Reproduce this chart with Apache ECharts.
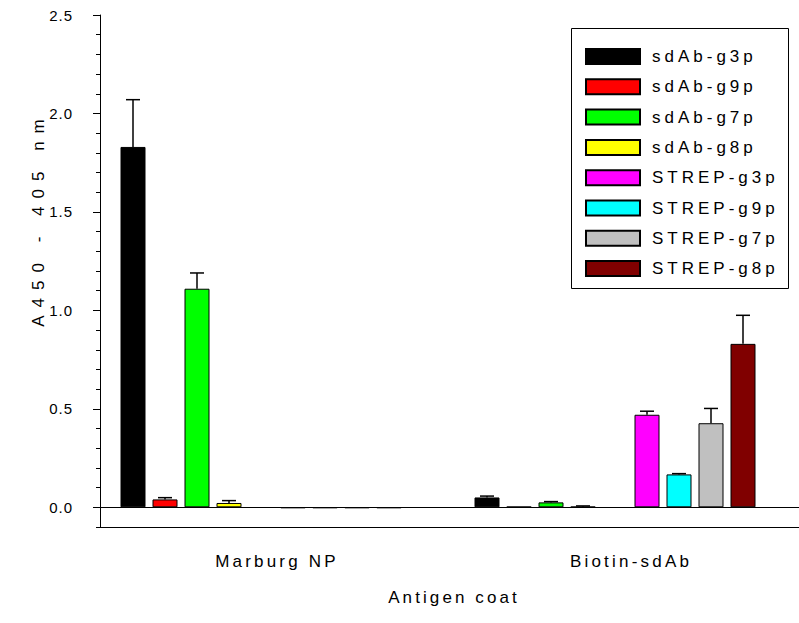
<!DOCTYPE html>
<html>
<head>
<meta charset="utf-8">
<script src="https://cdn.jsdelivr.net/npm/echarts@6/dist/echarts.min.js"></script>
<style>
    html, body { margin: 0; padding: 0; background: #fff; }
    #root { width: 799px; height: 623px; }
</style>
</head>
<body>
<div id="root"></div>
<script>
// categories on the x axis
var categories = ['Marburg NP', 'Biotin-sdAb'];

// bar heights per category
var sdAbG3p = [1.83, 0.05];
var sdAbG9p = [0.04, 0.003];
var sdAbG7p = [1.11, 0.025];
var sdAbG8p = [0.022, 0.003];
var strepG3p = [-0.004, 0.47];
var strepG9p = [-0.004, 0.167];
var strepG7p = [-0.004, 0.427];
var strepG8p = [-0.004, 0.83];

// upper error bars
var sdAbG3pErr = [0.24, 0.007];
var sdAbG9pErr = [0.009, 0];
var sdAbG7pErr = [0.08, 0.004];
var sdAbG8pErr = [0.012, 0.004];
var strepG3pErr = [0, 0.018];
var strepG9pErr = [0, 0.004];
var strepG7pErr = [0, 0.075];
var strepG8pErr = [0, 0.145];

// y axis ticks
var majorTicks = [0, 0.5, 1.0, 1.5, 2.0, 2.5];
var minorTicks = [-0.1, 0.1, 0.2, 0.3, 0.4, 0.6, 0.7, 0.8, 0.9, 1.1, 1.2, 1.3, 1.4,
    1.6, 1.7, 1.8, 1.9, 2.1, 2.2, 2.3, 2.4];

var names = ['sdAb-g3p', 'sdAb-g9p', 'sdAb-g7p', 'sdAb-g8p',
    'STREP-g3p', 'STREP-g9p', 'STREP-g7p', 'STREP-g8p'];
var colors = ['#000000', '#ff0000', '#00ff00', '#ffff00',
    '#ff00ff', '#00ffff', '#c0c0c0', '#800000'];
var values = [sdAbG3p, sdAbG9p, sdAbG7p, sdAbG8p, strepG3p, strepG9p, strepG7p, strepG8p];
var errors = [sdAbG3pErr, sdAbG9pErr, sdAbG7pErr, sdAbG8pErr, strepG3pErr, strepG9pErr, strepG7pErr, strepG8pErr];
// slot of each series inside a group; slot 4 and 9 stay empty like in the original
var slots = [0, 1, 2, 3, 5, 6, 7, 8];

var FONT = "'Liberation Sans', Arial, sans-serif";
var BAR_W = 25, BAR_STEP = 32;
var Y_TITLE = 'A450 - 405 nm', X_TITLE = 'Antigen coat';

var series = [];
for (var s = 0; s < 10; s++) {
    var idx = slots.indexOf(s);
    if (idx < 0) {
        series.push({ type: 'bar', name: '', data: [null, null], barWidth: BAR_W, barGap: '28%' });
    } else {
        series.push({
            type: 'bar',
            name: names[idx],
            data: values[idx],
            barWidth: BAR_W,
            barGap: '28%',
            itemStyle: { color: colors[idx], borderColor: '#000', borderWidth: 1 }
        });
    }
}
// the zero line
series[0].markLine = {
    silent: true,
    symbol: 'none',
    label: { show: false },
    lineStyle: { color: '#000', width: 1, type: 'solid' },
    data: [{ yAxis: 0 }]
};

var errData = [];
for (var i = 0; i < names.length; i++) {
    for (var c = 0; c < categories.length; c++) {
        errData.push([c, slots[i], values[i][c], errors[i][c]]);
    }
}
series.push({
    type: 'custom',
    z: 5,
    silent: true,
    encode: { x: 0, y: 2 },
    data: errData,
    renderItem: function (params, api) {
        var e = api.value(3);
        if (!e) return;
        var v = api.value(2);
        var base = api.coord([api.value(0), v]);
        var top = api.coord([api.value(0), v + e]);
        var x = base[0] + (api.value(1) - 4.5) * BAR_STEP;
        var st = { stroke: '#000', lineWidth: 1.5 };
        return {
            type: 'group',
            children: [
                { type: 'line', shape: { x1: x, y1: base[1], x2: x, y2: top[1] }, style: st },
                { type: 'line', shape: { x1: x - 7, y1: top[1], x2: x + 7, y2: top[1] }, style: st }
            ]
        };
    }
});

var chart = echarts.init(document.getElementById('root'), null, { renderer: 'svg' });
chart.setOption({
    animation: false,
    backgroundColor: '#fff',
    textStyle: { fontFamily: FONT },
    grid: { left: 100, top: 15, width: 708, height: 512, outerBoundsMode: 'none', containLabel: false },
    legend: {
        data: names,
        orient: 'vertical',
        left: 571,
        top: 28,
        icon: 'rect',
        itemWidth: 54,
        itemHeight: 15,
        itemGap: 13.3,
        padding: [20, 0, 0, 14],
        textStyle: { fontFamily: FONT, fontSize: 17, color: '#000', padding: [0, 0, 0, 7] }
    },
    xAxis: {
        type: 'category',
        data: categories,
        name: X_TITLE,
        nameLocation: 'middle',
        nameGap: 62,
        nameTextStyle: { fontFamily: FONT, fontSize: 17, color: '#000' },
        axisLine: { onZero: false, lineStyle: { color: '#000', width: 1 } },
        axisTick: { alignWithLabel: true, length: 7, lineStyle: { color: '#000' } },
        axisLabel: { margin: 26, fontFamily: FONT, fontSize: 17, color: '#000' }
    },
    yAxis: [{
        type: 'value',
        min: -0.1,
        max: 2.5,
        splitLine: { show: false },
        axisLine: { show: true, lineStyle: { color: '#000', width: 1 } },
        axisTick: { show: true, length: 7, customValues: majorTicks, lineStyle: { color: '#000' } },
        axisLabel: {
            customValues: majorTicks,
            margin: 27,
            fontFamily: FONT,
            fontSize: 15,
            color: '#000',
            formatter: function (v) { return v.toFixed(1); }
        }
    }, {
        type: 'value',
        min: -0.1,
        max: 2.5,
        position: 'left',
        splitLine: { show: false },
        axisLine: { show: false },
        axisTick: { show: true, length: 4, customValues: minorTicks, lineStyle: { color: '#000' } },
        axisLabel: { show: false }
    }],
    graphic: [{
        type: 'rect',
        shape: { x: 571.5, y: 28.5, width: 217, height: 260 },
        style: { fill: 'none', stroke: '#000', lineWidth: 1 }
    }, {
        type: 'text',
        x: 38,
        y: 219,
        rotation: Math.PI / 2,
        style: {
            text: Y_TITLE,
            fill: '#000',
            font: '17px ' + FONT,
            textAlign: 'center',
            textVerticalAlign: 'middle'
        }
    }],
    series: series
});

// the original uses wide letter spacing, different per text group
function spacingFor(txt) {
    if (txt === Y_TITLE) return 8;
    if (txt === X_TITLE) return 3.1;
    if (categories.indexOf(txt) >= 0) return 3.2;
    if (names.indexOf(txt) >= 0) return 4;
    return 1;
}
function applySpacing() {
    document.querySelectorAll('#root text').forEach(function (t) {
        t.setAttribute('letter-spacing', spacingFor(t.textContent.trim()) + 'px');
    });
}
chart.on('finished', applySpacing);
applySpacing();
setTimeout(applySpacing, 30);
</script>
</body>
</html>
